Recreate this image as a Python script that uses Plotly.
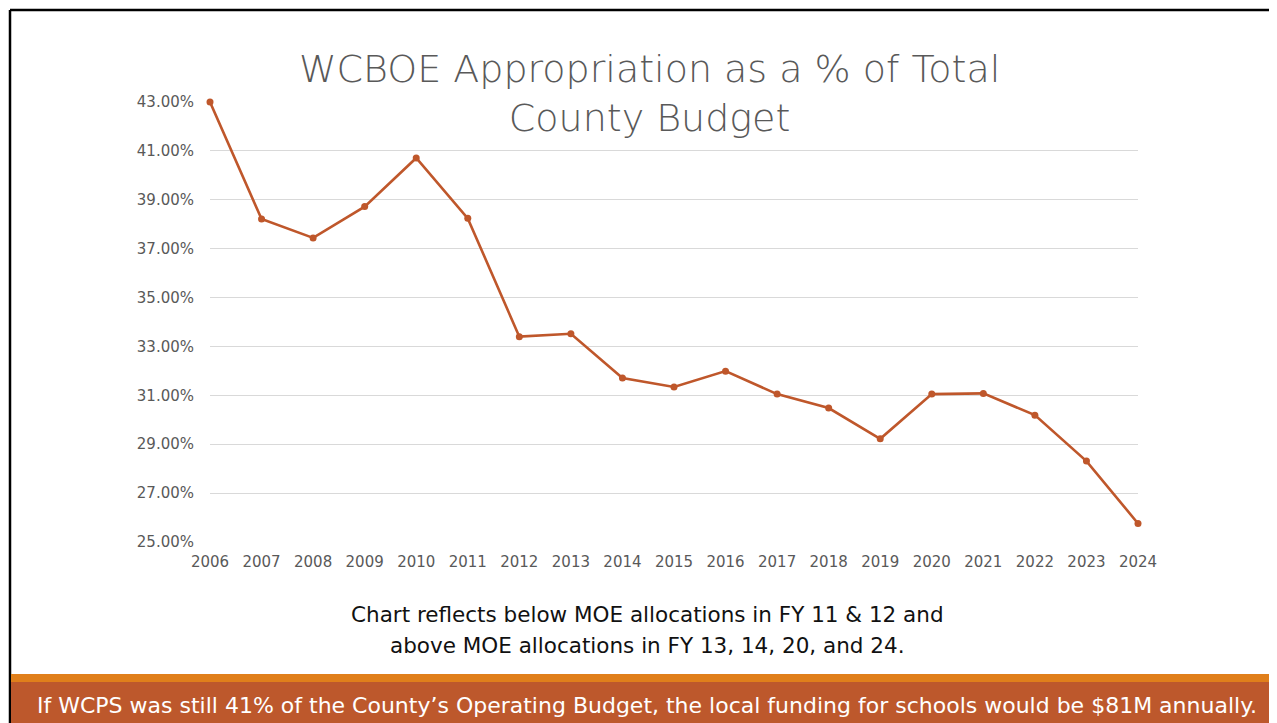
import plotly.graph_objects as go

years = list(range(2006, 2025))
pct = [43.00, 38.21, 37.44, 38.72, 40.71, 38.24, 33.40, 33.52, 31.71, 31.34,
       31.99, 31.05, 30.48, 29.22, 31.05, 31.08, 30.19, 28.31, 25.76]
ytick_vals = [25, 27, 29, 31, 33, 35, 37, 39, 41, 43]
ytick_text = [f"{v:.2f}%" for v in ytick_vals]

title_text = "WCBOE Appropriation as a % of Total<br>County Budget"
note_lines = ["Chart reflects below MOE allocations in FY 11 & 12 and",
              "above MOE allocations in FY 13, 14, 20, and 24."]
banner_text = "If WCPS was still 41% of the County\u2019s Operating Budget, the local funding for schools would be $81M annually."

OFF = 8  # default page body margin
W, H = 1277 - OFF, 723 - OFF
L, R, T, B = 210 - OFF, 1138 - OFF, 102 - OFF, 542 - OFF
pw, ph = R - L, B - T

def px(x):
    return (x - OFF - L) / pw

def py(y):
    return (B - (y - OFF)) / ph

line_color = "#BF572B"
FONT = "DejaVu Sans, sans-serif"

fig = go.Figure()
fig.add_trace(go.Scatter(
    x=years, y=pct, mode="lines+markers",
    line=dict(color=line_color, width=2.6),
    marker=dict(color=line_color, size=7),
    cliponaxis=False, showlegend=False,
))

shapes = [
    dict(type="line", xref="paper", yref="paper", x0=px(10), x1=px(10), y0=py(10), y1=py(723),
         line=dict(color="black", width=2.5)),
    dict(type="line", xref="paper", yref="paper", x0=px(10), x1=px(1277), y0=py(10), y1=py(10),
         line=dict(color="black", width=2.5)),
    dict(type="rect", xref="paper", yref="paper", x0=px(11), x1=px(1277), y0=py(682), y1=py(674),
         fillcolor="#E07F1B", line=dict(width=0), layer="above"),
    dict(type="rect", xref="paper", yref="paper", x0=px(11), x1=px(1277), y0=py(723), y1=py(682),
         fillcolor="#BD582C", line=dict(width=0), layer="above"),
]

annotations = [
    dict(text=title_text, xref="paper", yref="paper", x=px(649), y=py(93.5),
         xanchor="center", yanchor="middle", showarrow=False, align="center",
         bgcolor="white", borderpad=2,
         font=dict(family=FONT, size=38, color="#595959", weight=200)),
    dict(text=note_lines[0], xref="paper", yref="paper", x=px(647), y=py(614),
         xanchor="center", yanchor="middle", showarrow=False, align="center",
         font=dict(family=FONT, size=21.5, color="#111111")),
    dict(text=note_lines[1], xref="paper", yref="paper", x=px(647), y=py(645),
         xanchor="center", yanchor="middle", showarrow=False, align="center",
         font=dict(family=FONT, size=21.5, color="#111111")),
    dict(text=banner_text, xref="paper", yref="paper", x=px(647), y=py(705),
         xanchor="center", yanchor="middle", showarrow=False, align="center",
         font=dict(family=FONT, size=22, color="white")),
]

fig.update_layout(
    width=W, height=H,
    margin=dict(l=L, r=W - R, t=T, b=H - B),
    paper_bgcolor="white", plot_bgcolor="white",
    shapes=shapes, annotations=annotations,
    xaxis=dict(range=[2006, 2024], tickmode="array", tickvals=years,
               ticktext=[str(y) for y in years], showgrid=False, zeroline=False,
               showline=False, ticks="outside", ticklen=6, tickcolor="rgba(0,0,0,0)",
               tickfont=dict(family=FONT, size=15, color="#595959")),
    yaxis=dict(range=[25, 43], tickmode="array", tickvals=ytick_vals, ticktext=ytick_text,
               showgrid=True, gridcolor="#D9D9D9", gridwidth=1, zeroline=False,
               showline=False, ticks="outside", ticklen=12, tickcolor="rgba(0,0,0,0)",
               tickfont=dict(family=FONT, size=15, color="#595959")),
)

fig.write_html("out.html")
